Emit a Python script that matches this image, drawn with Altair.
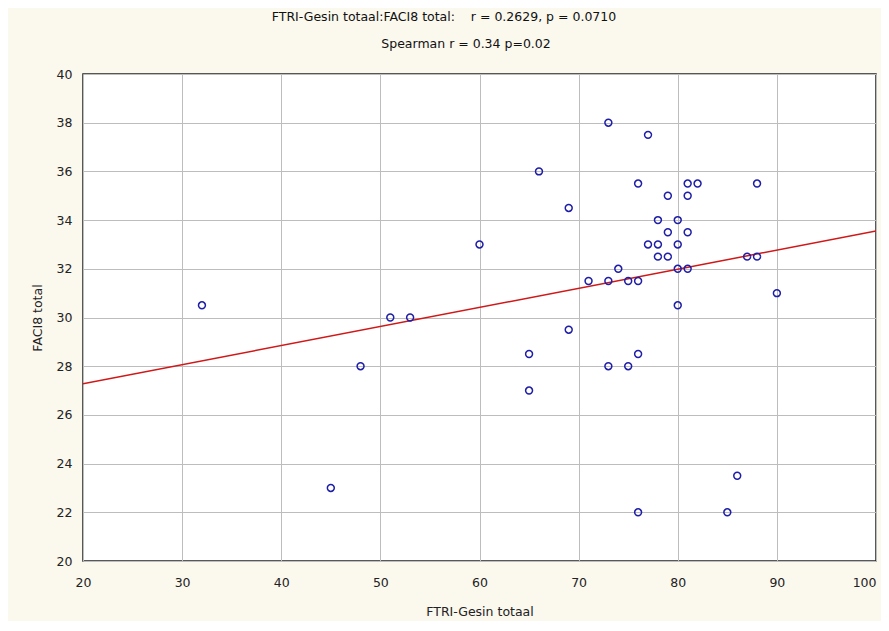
import altair as alt
import pandas as pd

# FTRI-Gesin totaal (x) and FACI8 total (y)
x_vals = [73, 77, 76, 81, 82, 88, 79, 81, 78, 80, 79, 81, 77, 78, 80,
          78, 79, 87, 88, 80, 81, 74, 73, 75, 76, 90, 80, 76, 73, 75,
          86, 76, 85, 45, 48, 51, 53, 65, 65, 69, 71, 32, 66, 69, 60]
y_vals = [38, 37.5, 35.5, 35.5, 35.5, 35.5, 35, 35, 34, 34, 33.5, 33.5, 33, 33, 33,
          32.5, 32.5, 32.5, 32.5, 32, 32, 32, 31.5, 31.5, 31.5, 31, 30.5, 28.5, 28, 28,
          23.5, 22, 22, 23, 28, 30, 30, 28.5, 27, 29.5, 31.5, 30.5, 36, 34.5, 33]

title_line1 = "FTRI-Gesin totaal:FACI8 total:\u00a0\u00a0\u00a0 r = 0.2629, p = 0.0710"
title_line2 = "Spearman r = 0.34 p=0.02"
x_title = "FTRI-Gesin totaal"
y_title = "FACI8 total"
x_ticks = [20, 30, 40, 50, 60, 70, 80, 90, 100]
y_ticks = [20, 22, 24, 26, 28, 30, 32, 34, 36, 38, 40]

FONT = "DejaVu Sans"
FS = 12.5
df = pd.DataFrame({"x": x_vals, "y": y_vals})

xs = alt.Scale(domain=[20, 100], nice=False, zero=False)
ys = alt.Scale(domain=[20, 40], nice=False, zero=False)

x_axis = alt.Axis(values=x_ticks, title=x_title, grid=True, gridColor="#bdbdbd",
                  gridWidth=1, ticks=False, domain=False, labelPadding=15,
                  labelFlush=False, labelOverlap=False,
                  labelAlign=alt.ExprRef(expr="datum.value == 100 ? 'right' : 'center'"),
                  titlePadding=17, labelFontSize=FS, titleFontSize=FS,
                  labelColor="#222222", titleColor="#222222", titleFontWeight="normal",
                  labelFont=FONT, titleFont=FONT)
y_axis = alt.Axis(values=y_ticks, title=y_title, grid=True, gridColor="#bdbdbd",
                  gridWidth=1, ticks=False, domain=False, labelPadding=11,
                  labelFlush=False, labelOverlap=False,
                  titlePadding=12, labelFontSize=FS, titleFontSize=FS,
                  labelColor="#222222", titleColor="#222222", titleFontWeight="normal",
                  labelFont=FONT, titleFont=FONT)

base = alt.Chart(df)
points = base.mark_point(shape="circle", filled=False, size=48, strokeWidth=1.5,
                         color="#1e1ea8", opacity=1).encode(
    x=alt.X("x:Q", scale=xs, axis=x_axis),
    y=alt.Y("y:Q", scale=ys, axis=y_axis),
)
line = base.transform_regression("x", "y", extent=[20, 100]).mark_line(
    color="#d01818", strokeWidth=1.5, clip=True).encode(
    x=alt.X("x:Q", scale=xs),
    y=alt.Y("y:Q", scale=ys),
)
titles = alt.Chart(pd.DataFrame({"t": [title_line1, title_line2],
                                 "px": [361, 383], "py": [-57, -30]})).mark_text(
    font=FONT, fontSize=FS, color="#111111", baseline="middle", align="center").encode(
    text="t:N", x=alt.X("px:Q", scale=None), y=alt.Y("py:Q", scale=None))

chart = alt.layer(line, points, titles).properties(
    width=793, height=487,
    autosize=alt.AutoSizeParams(type="none"),
    padding={"left": 75, "top": 66, "right": 5, "bottom": 60},
    background="#fbf8ee",
).configure_view(stroke="#222222", strokeWidth=1.5, fill="white")

chart.save("out.html", embed_options={"renderer": "svg", "actions": False})
